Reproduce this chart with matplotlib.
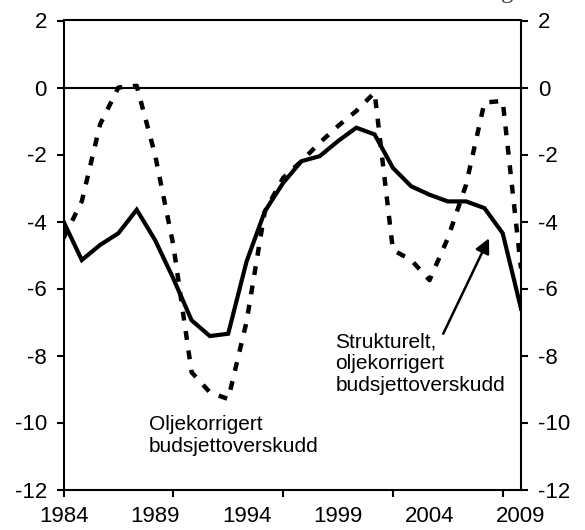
import matplotlib
matplotlib.use('Agg')
from matplotlib import pyplot as plt

years = list(range(1984, 2010))

# Strukturelt, oljekorrigert budsjettoverskudd (solid)
structural = [-4.0, -5.15, -4.7, -4.35, -3.65, -4.55, -5.7, -6.95, -7.42, -7.35,
              -5.2, -3.7, -2.85, -2.2, -2.05, -1.6, -1.2, -1.4, -2.4, -2.95,
              -3.2, -3.4, -3.4, -3.6, -4.35, -6.6]

# Oljekorrigert budsjettoverskudd (dashed)
oil_corrected = [-4.5, -3.4, -1.1, 0.0, 0.05, -2.0, -4.7, -8.5, -9.1, -9.3,
                 -7.0, -3.7, -2.7, -2.2, -1.65, -1.15, -0.7, -0.15, -4.85, -5.15,
                 -5.75, -4.5, -2.9, -0.45, -0.4, -5.4]

tick_years = [1984, 1990, 1996, 2002, 2008]
label_years = [1984, 1989, 1994, 1999, 2004, 2009]
y_ticks = [-12, -10, -8, -6, -4, -2, 0, 2]

title = 'Prosent av trend-BNP for Fastlands-Norge'
label_oil = 'Oljekorrigert\nbudsjettoverskudd'
label_structural = 'Strukturelt,\noljekorrigert\nbudsjettoverskudd'

plt.rcParams['font.family'] = ['Liberation Sans', 'DejaVu Sans']

fig = plt.figure(figsize=(5.85, 5.3), dpi=100)
ax = fig.add_axes([63.5 / 585, 1 - 489.5 / 530, (521 - 63.5) / 585, (489.5 - 20.5) / 530])

ax.plot(years, oil_corrected, color='black', lw=3.2, linestyle=(0, (2.0, 2.4)),
        dash_capstyle='butt')
ax.plot(years, structural, color='black', lw=3.0, solid_joinstyle='miter')
ax.axhline(0, color='black', lw=1.5)

ax.set_xlim(1984, 2009)
ax.set_ylim(-12, 2)

for side in ['left', 'right', 'top', 'bottom']:
    ax.spines[side].set_linewidth(1.5)

ax.set_yticks(y_ticks)
ax.set_yticklabels([str(v) for v in y_ticks])
ax.tick_params(axis='y', which='major', direction='out', length=5, width=1.5,
               labelsize=16, pad=7, left=True, right=True,
               labelleft=True, labelright=True)

ax.xaxis.remove_overlapping_locs = False
ax.set_xticks(tick_years)
ax.set_xticklabels([])
ax.set_xticks(label_years, minor=True)
ax.set_xticklabels([str(v) for v in label_years], minor=True)
ax.tick_params(axis='x', which='major', direction='out', length=5, width=1.5)
ax.tick_params(axis='x', which='minor', length=0, labelsize=16, pad=12)

ax.text(1988.65, -9.78, label_oil, fontsize=15, va='top', ha='left',
        linespacing=1.2)
ax.text(1998.85, -7.3, label_structural, fontsize=15, va='top', ha='left',
        linespacing=1.2)
ax.annotate('', xy=(2007.25, -4.5), xytext=(2004.75, -7.35),
            arrowprops=dict(arrowstyle='-|>', color='black', lw=1.8,
                            mutation_scale=22, shrinkA=0, shrinkB=0))

# title sits mostly above the canvas, only its lower edge shows
fig.text(0.534, 1 + 2 / 530, title, family='Liberation Serif', fontsize=18,
         ha='center', va='baseline', color='#444444')

fig.savefig('out.png', dpi=100)
